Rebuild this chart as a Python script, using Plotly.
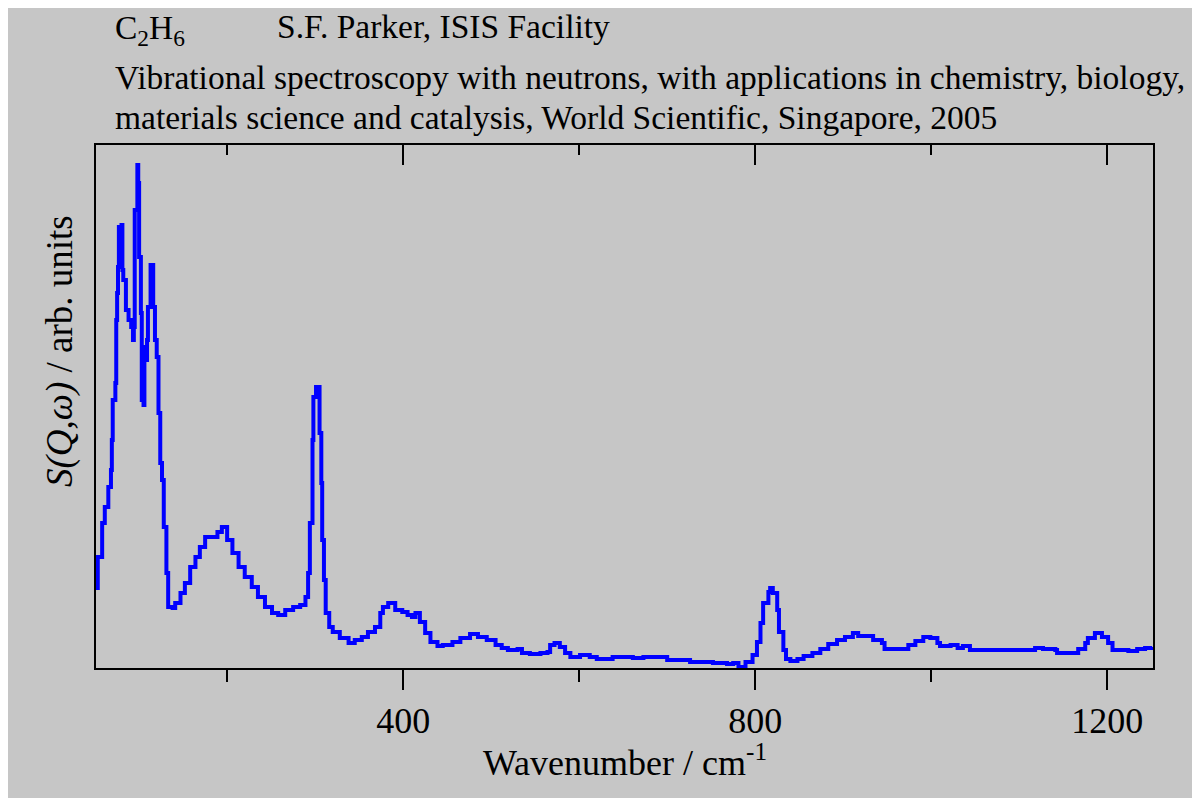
import plotly.graph_objects as go

# INS spectrum of ethane
wavenumber = [51, 53, 58, 61, 65, 68, 69, 70, 73, 74, 75, 76, 77, 80, 81, 82, 85, 88, 91, 93,
              94, 95, 98, 99, 100, 102, 103, 105, 106, 108, 109, 110, 113, 115, 116, 118, 120, 122, 124, 126,
              128, 131, 133, 138, 141, 147, 152, 158, 164, 169, 175, 183, 189, 194, 200, 206, 213, 220, 228, 235,
              243, 251, 258, 266, 275, 283, 289, 292, 294, 297, 298, 301, 302, 305, 307, 308, 310, 312, 316, 320,
              328, 338, 345, 353, 360, 368, 374, 377, 383, 391, 399, 405, 410, 414, 419, 425, 431, 439, 445, 456,
              465, 476, 485, 495, 505, 512, 519, 530, 535, 544, 556, 564, 567, 572, 578, 584, 590, 601, 612, 620,
              630, 638, 650, 661, 673, 689, 700, 715, 726, 741, 752, 768, 775, 781, 789, 797, 802, 806, 809, 815,
              817, 820, 825, 827, 832, 835, 840, 848, 855, 865, 874, 883, 893, 902, 911, 917, 927, 934, 944, 947,
              957, 968, 974, 982, 991, 999, 1007, 1010, 1022, 1030, 1036, 1044, 1056, 1075, 1086, 1098, 1109, 1118, 1127, 1141,
              1143, 1161, 1167, 1175, 1178, 1186, 1194, 1201, 1206, 1224, 1234, 1243, 1251]
intensity = [80, 111, 145, 161, 181, 198, 228, 268, 285, 348, 375, 401, 441, 443, 398, 388, 358, 348, 341, 328,
             341, 458, 503, 485, 411, 355, 268, 263, 321, 308, 328, 361, 403, 403, 361, 328, 311, 255, 205, 188,
             141, 95, 61, 60, 65, 75, 85, 101, 111, 121, 131, 131, 136, 141, 128, 115, 101, 91, 81, 71,
             61, 55, 53, 58, 61, 63, 71, 95, 145, 228, 271, 281, 281, 235, 185, 128, 88, 55, 41, 36,
             30, 25, 28, 31, 36, 41, 55, 61, 65, 58, 56, 53, 51, 55, 46, 35, 26, 22, 23, 26,
             30, 34, 31, 28, 23, 20, 18, 19, 15, 14, 15, 16, 23, 25, 21, 15, 11, 13, 11, 9,
             9, 11, 11, 10, 11, 11, 8, 8, 6, 6, 5, 4, 5, 1, 6, 13, 26, 45, 65, 76,
             80, 75, 58, 36, 18, 9, 7, 9, 12, 15, 19, 24, 28, 31, 35, 32, 32, 28, 25, 19,
             19, 19, 23, 27, 31, 30, 25, 22, 23, 20, 22, 18, 18, 18, 18, 18, 18, 20, 19, 18,
             15, 15, 19, 25, 30, 35, 31, 25, 18, 17, 19, 20, 21]

major_ticks = [400, 800, 1200]
minor_ticks = [200, 600, 1000]

x_range = [51, 1252]
y_range = [0, 523]

bg = "#C6C6C6"
serif = "Liberation Serif, Times New Roman, serif"

fig = go.Figure()
fig.add_trace(go.Scatter(x=wavenumber, y=intensity, mode="lines", line=dict(color="#0000FF", width=4, shape="hv"),
                         showlegend=False, hoverinfo="skip"))
# invisible copy so the top axis gets drawn
fig.add_trace(go.Scatter(x=wavenumber, y=intensity, xaxis="x2", mode="lines", opacity=0,
                         showlegend=False, hoverinfo="skip"))

# the page body has an 8px margin, so the figure is 8px smaller and margins shifted
fig.update_layout(
    width=1192, height=790,
    paper_bgcolor=bg, plot_bgcolor=bg,
    margin=dict(l=88, r=47, t=137, b=130),
    font=dict(family=serif, size=36, color="black"),
    xaxis=dict(range=x_range, showgrid=False, zeroline=False, showline=True, linecolor="black", linewidth=2,
               ticks="outside", tickvals=major_ticks, ticklen=20, tickwidth=2, tickcolor="black",
               minor=dict(tickvals=minor_ticks, ticks="outside", ticklen=12, tickwidth=2, tickcolor="black"),
               tickfont=dict(family=serif, size=36)),
    xaxis2=dict(range=x_range, overlaying="x", side="top", showgrid=False, zeroline=False, showline=True,
                linecolor="black", linewidth=2, ticks="inside", tickvals=major_ticks, ticklen=20, tickwidth=2,
                tickcolor="black", showticklabels=False,
                minor=dict(tickvals=minor_ticks, ticks="inside", ticklen=10, tickwidth=2, tickcolor="black")),
    yaxis=dict(range=y_range, showgrid=False, zeroline=False, showline=True, mirror=True, linecolor="black",
               linewidth=2, ticks="", showticklabels=False),
)

def px_to_paper(px, py):
    return (px - 96) / 1057, (668 - py) / 523

header = [
    (113, 30, "C<sub>2</sub>H<sub>6</sub>"),
    (275, 26, "S.F. Parker, ISIS Facility"),
    (113, 77, "Vibrational spectroscopy with neutrons, with applications in chemistry, biology,"),
    (113, 117, "materials science and catalysis, World Scientific, Singapore, 2005"),
]
for px, py, txt in header:
    xp, yp = px_to_paper(px, py)
    fig.add_annotation(x=xp, y=yp, xref="paper", yref="paper", text=txt, showarrow=False,
                       xanchor="left", yanchor="middle", font=dict(family=serif, size=33.5, color="black"))

xp, yp = px_to_paper(624.5, 760)
fig.add_annotation(x=xp, y=yp, xref="paper", yref="paper", text="Wavenumber / cm<sup>-1</sup>", showarrow=False,
                   xanchor="center", yanchor="middle", font=dict(family=serif, size=36, color="black"))

xp, yp = px_to_paper(60, 351)
fig.add_annotation(x=xp, y=yp, xref="paper", yref="paper", text="<i>S(Q,ω)</i> / arb. units", showarrow=False,
                   textangle=-90, xanchor="center", yanchor="middle", font=dict(family=serif, size=37, color="black"))

fig.write_html("out.html")
